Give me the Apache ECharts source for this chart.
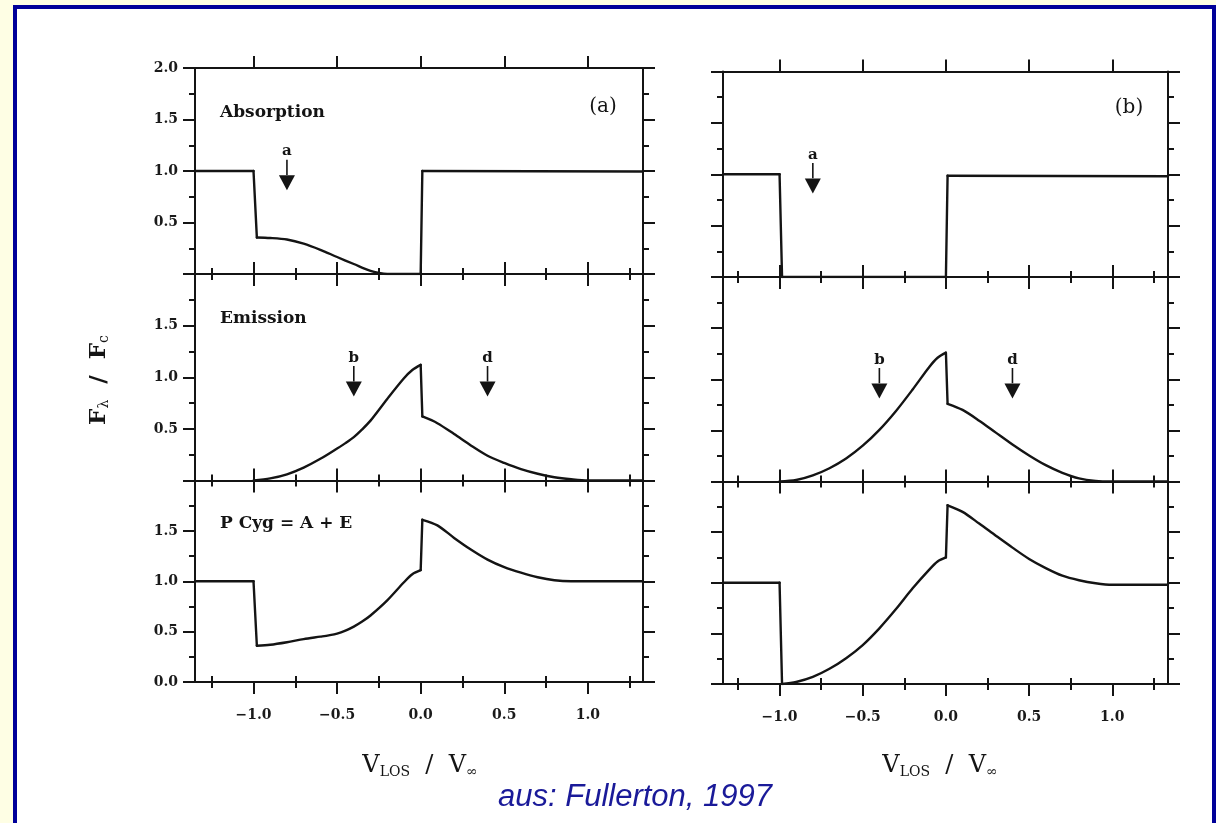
<!DOCTYPE html>
<html><head><meta charset="utf-8">
<script src="https://cdn.jsdelivr.net/npm/echarts@6/dist/echarts.min.js"></script>
<style>
html,body{margin:0;padding:0;background:#FEFEE4;overflow:hidden;width:1216px;height:823px;}
#frame{position:absolute;left:13px;top:5px;width:1195px;height:900px;border:4px solid #000099;border-bottom:none;background:#fff;}
#chart{position:absolute;left:0;top:0;width:1216px;height:823px;}
</style></head><body><div id="frame"></div><div id="chart"></div>
<script>
// ---------- data (x = V_LOS/V_inf, y = F_lambda/F_c) ----------
const absorptionA = [[-1.35,1.0],[-1.0,1.0],[-0.98,0.355],[-0.9,0.35],[-0.8,0.335],[-0.7,0.295],[-0.6,0.235],[-0.5,0.165],[-0.4,0.097],[-0.3,0.03],[-0.25,0.01],[-0.2,0.0],[0.0,0.0],[0.01,1.0],[1.33,0.995]];
const emissionA   = [[-1.0,0.0],[-0.9,0.02],[-0.8,0.06],[-0.7,0.125],[-0.6,0.21],[-0.5,0.31],[-0.45,0.362],[-0.4,0.42],[-0.35,0.495],[-0.3,0.58],[-0.2,0.79],[-0.1,0.99],[-0.05,1.07],[0.0,1.12],[0.01,0.62],[0.1,0.555],[0.2,0.45],[0.3,0.34],[0.4,0.24],[0.5,0.17],[0.6,0.11],[0.7,0.065],[0.8,0.032],[0.9,0.012],[1.0,0.0],[1.33,0.0]];
const pcygA       = [[-1.35,1.0],[-1.0,1.0],[-0.98,0.36],[-0.9,0.37],[-0.8,0.395],[-0.7,0.425],[-0.6,0.45],[-0.55,0.463],[-0.5,0.48],[-0.45,0.51],[-0.4,0.55],[-0.35,0.6],[-0.3,0.66],[-0.2,0.81],[-0.1,0.99],[-0.05,1.07],[0.0,1.11],[0.01,1.61],[0.1,1.555],[0.2,1.43],[0.3,1.315],[0.4,1.215],[0.5,1.14],[0.6,1.085],[0.7,1.04],[0.8,1.01],[0.9,1.0],[1.0,1.0],[1.33,1.0]];
const absorptionB = [[-1.34,1.0],[-1.0,1.0],[-0.985,0.0],[0.0,0.0],[0.01,0.985],[1.335,0.98]];
const emissionB   = [[-1.0,0.0],[-0.9,0.015],[-0.8,0.06],[-0.7,0.13],[-0.6,0.225],[-0.5,0.35],[-0.4,0.505],[-0.3,0.69],[-0.2,0.9],[-0.1,1.12],[-0.05,1.21],[0.0,1.26],[0.01,0.76],[0.1,0.70],[0.2,0.595],[0.3,0.478],[0.4,0.362],[0.5,0.255],[0.6,0.16],[0.7,0.085],[0.8,0.03],[0.9,0.005],[1.0,0.0],[1.335,0.0]];
const pcygB       = [[-1.34,1.0],[-1.0,1.0],[-0.985,0.0],[-0.9,0.02],[-0.8,0.07],[-0.7,0.15],[-0.6,0.255],[-0.5,0.385],[-0.4,0.55],[-0.3,0.74],[-0.2,0.945],[-0.1,1.13],[-0.05,1.21],[0.0,1.25],[0.01,1.765],[0.1,1.70],[0.2,1.585],[0.3,1.465],[0.4,1.347],[0.5,1.235],[0.6,1.145],[0.7,1.07],[0.8,1.025],[0.9,0.995],[1.0,0.98],[1.335,0.98]];

// arrows: [x position, letter]
const arrowsAbsorption = [[-0.8,'a']];
const arrowsEmission   = [[-0.4,'b'],[0.4,'d']];
// arrow geometry in data units
const arrowLetterY = 1.19, arrowShaftTop = 1.11, arrowHeadTop = 0.96, arrowHeadCenter = 0.885;

const xMajorTicks = [-1.0,-0.5,0.0,0.5,1.0];
const xMinorTicks = [-1.25,-0.75,-0.25,0.25,0.75,1.25];
const yMin = 0, yMax = 2, yInterval = 0.5;

const panelTitles = ['Absorption','Emission','P Cyg = A + E'];
const columnTags = ['(a)','(b)'];

// ---------- layout ----------
const cols = [
  {left:195, width:448, xmin:-1.35, xmax:1.33, tops:[68,274,480.5], bottom:682},
  {left:723, width:445, xmin:-1.34, xmax:1.335, tops:[71.5,277,481.5], bottom:684}
];
const panelData = [[absorptionA, emissionA, pcygA],[absorptionB, emissionB, pcygB]];
const ink = '#141414';
const tickFont = {fontFamily:'DejaVu Serif', fontWeight:'bold', fontSize:14, color:'#1a1a1a'};
const fmt = v => (v < 0 ? '\u2212' : '') + Math.abs(v).toFixed(1);

// split a profile into smooth runs and the (near-vertical) jumps between them
function splitProfile(d) {
  const runs = [], jumps = [];
  let cur = [d[0]];
  for (let i = 1; i < d.length; i++) {
    if (d[i][0] - d[i-1][0] < 0.03) { jumps.push([d[i-1], d[i]]); runs.push(cur); cur = [d[i]]; }
    else cur.push(d[i]);
  }
  runs.push(cur);
  return {runs: runs.filter(r => r.length > 1), jumps};
}

const grids = [], xAxes = [], yAxes = [], series = [];
let gi = 0;
cols.forEach((c, ci) => {
  for (let r = 0; r < 3; r++) {
    const top = c.tops[r];
    const h = (r < 2 ? c.tops[r+1] : c.bottom) - top;
    grids.push({left:c.left, top:top, width:c.width, height:h, outerBoundsMode:'none', containLabel:false});
    const axLine = {show:true, onZero:false, lineStyle:{color:ink, width:2}};
    const mk = (pos, ticks, len, showLine, showLabel) => ({
      gridIndex:gi, type:'value', position:pos, min:c.xmin, max:c.xmax,
      axisLine: showLine ? axLine : {show:false},
      axisTick:{show:true, inside:false, length:len, customValues:ticks, lineStyle:{color:ink, width:2}},
      axisLabel: showLabel ? Object.assign({show:true, customValues:ticks, margin:26, formatter:fmt}, tickFont) : {show:false},
      splitLine:{show:false}
    });
    xAxes.push(mk('bottom', xMajorTicks, 12, true, r === 2));
    xAxes.push(mk('bottom', xMinorTicks, 6, false, false));
    xAxes.push(mk('top', xMajorTicks, 12, true, false));
    xAxes.push(mk('top', xMinorTicks, 6, false, false));
    const mky = (pos, showLabel) => ({
      gridIndex:gi, type:'value', position:pos, min:yMin, max:yMax, interval:yInterval,
      axisLine:axLine,
      axisTick:{show:true, inside:false, length:12, lineStyle:{color:ink, width:2}},
      minorTick:{show:true, splitNumber:2, length:6, lineStyle:{color:ink, width:2}},
      axisLabel: showLabel ? Object.assign({show:true, margin:17, formatter:fmt,
        showMinLabel: r === 2, showMaxLabel: r === 0}, tickFont) : {show:false},
      splitLine:{show:false}, minorSplitLine:{show:false}
    });
    yAxes.push(mky('left', ci === 0));
    yAxes.push(mky('right', false));

    const prof = splitProfile(panelData[ci][r]);
    const ls = {color:ink, width:2.4, cap:'round', join:'round'};
    prof.runs.forEach(run => series.push({type:'line', xAxisIndex:gi*4, yAxisIndex:gi*2, data:run,
      symbol:'none', smooth:0.3, lineStyle:ls, silent:true, z:5}));
    prof.jumps.forEach(j => series.push({type:'line', xAxisIndex:gi*4, yAxisIndex:gi*2, data:j,
      symbol:'none', smooth:false, lineStyle:ls, silent:true, z:5}));

    const arrows = r === 0 ? arrowsAbsorption : (r === 1 ? arrowsEmission : []);
    arrows.forEach(a => {
      series.push({type:'line', xAxisIndex:gi*4, yAxisIndex:gi*2,
        data:[[a[0], arrowShaftTop],[a[0], arrowHeadTop]], symbol:'none',
        lineStyle:{color:ink, width:1.6}, silent:true});
    });
    if (arrows.length) {
      series.push({type:'scatter', xAxisIndex:gi*4, yAxisIndex:gi*2,
        data:arrows.map(a => [a[0], arrowHeadCenter]), symbol:'triangle', symbolRotate:180,
        symbolSize:[16,15], itemStyle:{color:ink, opacity:1}, silent:true});
      series.push({type:'scatter', xAxisIndex:gi*4, yAxisIndex:gi*2,
        data:arrows.map(a => ({value:[a[0], arrowLetterY], name:a[1]})), symbolSize:0,
        itemStyle:{opacity:1},
        label:{show:true, position:'inside', formatter:'{b}', fontFamily:'DejaVu Serif', fontWeight:'bold', fontSize:15, color:ink, opacity:1},
        silent:true});
    }
    gi++;
  }
});

const titleFont = 'bold 17px "DejaVu Serif"';
const graphics = [];
const titleYs = [115, 321.5, 526.5];
panelTitles.forEach((t, r) => graphics.push({type:'text', left:220, top:titleYs[r]-11,
  style:{text:t, font:titleFont, fill:ink}}));
graphics.push({type:'text', x:603, y:107, style:{text:columnTags[0], font:'20px "DejaVu Serif"', fill:ink, align:'center', verticalAlign:'middle'}});
graphics.push({type:'text', x:1129, y:108, style:{text:columnTags[1], font:'20px "DejaVu Serif"', fill:ink, align:'center', verticalAlign:'middle'}});
// y axis title
graphics.push({type:'text', x:99, y:380, rotation:Math.PI/2,
  style:{text:'{f|F}{s|\u03bb}{f|  /  F}{s|c}', align:'center', verticalAlign:'middle',
    rich:{f:{fontFamily:'DejaVu Serif', fontSize:23, fill:ink, fontWeight:'bold'},
          s:{fontFamily:'DejaVu Serif', fontSize:14, fill:ink, verticalAlign:'bottom', padding:[10,0,0,0]}}}});
// x axis titles
[420, 940].forEach(cx => graphics.push({type:'text', x:cx, y:766,
  style:{text:'{f|V}{s|LOS}{f|  /  V}{s|\u221e}', align:'center', verticalAlign:'middle',
    rich:{f:{fontFamily:'DejaVu Serif', fontSize:24, fill:ink},
          s:{fontFamily:'DejaVu Serif', fontSize:14, fill:ink, padding:[12,0,0,0]}}}}));
graphics.push({type:'text', x:635, y:797, style:{text:'aus: Fullerton, 1997',
  font:'italic 31px "Liberation Sans"', fill:'#1a1a99', align:'center', verticalAlign:'middle'}});

const chart = echarts.init(document.getElementById('chart'), null, {renderer:'canvas'});
chart.setOption({
  animation:false, backgroundColor:'transparent',
  grid:grids, xAxis:xAxes, yAxis:yAxes, series:series, graphic:graphics
});
</script></body></html>
